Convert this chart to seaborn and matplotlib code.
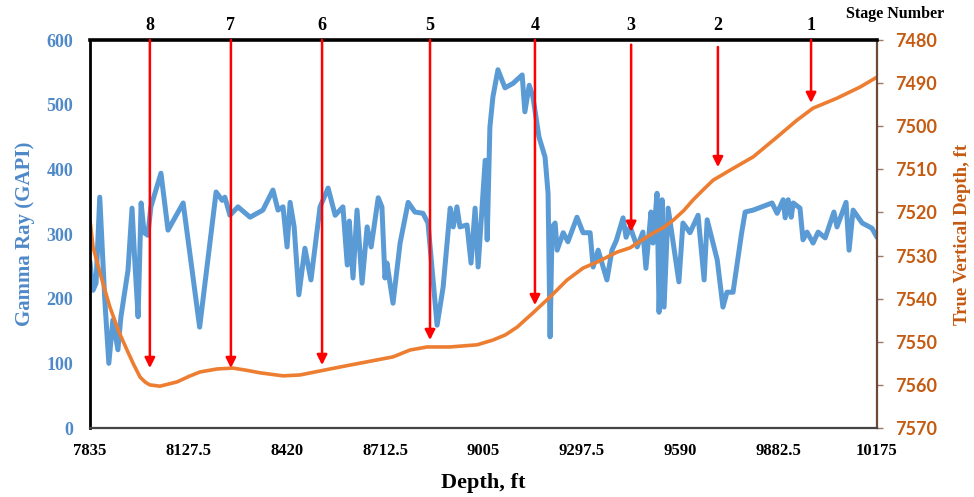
import matplotlib
matplotlib.use("Agg")
import matplotlib.pyplot as plt
import matplotlib.transforms as mtransforms
import seaborn as sns

# Gamma ray log along the lateral (measured depth, ft -> GAPI)
gr_depth = [7835, 7844, 7853, 7864, 7879, 7891, 7903, 7918, 7927, 7948, 7960, 7968,
            7978, 7987, 7996, 8007, 8016, 8046, 8067, 8112, 8161, 8210, 8228, 8236,
            8251, 8275, 8311, 8349, 8379, 8394, 8409, 8421, 8430, 8442, 8456, 8474,
            8492, 8519, 8543, 8564, 8587, 8600, 8606, 8617, 8629, 8644, 8659, 8671,
            8692, 8703, 8712, 8718, 8736, 8757, 8781, 8801, 8825, 8840, 8867, 8885,
            8906, 8915, 8926, 8935, 8956, 8968, 8980, 8989, 9003, 9010, 9016, 9024,
            9033, 9048, 9069, 9093, 9120, 9128, 9141, 9152, 9170, 9188, 9197, 9203,
            9209, 9218, 9224, 9242, 9256, 9283, 9301, 9322, 9331, 9346, 9372, 9387,
            9400, 9420, 9429, 9441, 9462, 9479, 9488, 9503, 9509, 9521, 9527, 9536,
            9542, 9554, 9569, 9586, 9598, 9619, 9643, 9661, 9670, 9685, 9700, 9717,
            9729, 9747, 9762, 9772, 9783, 9807, 9863, 9878, 9896, 9902, 9911, 9920,
            9926, 9946, 9955, 9967, 9985, 10000, 10021, 10047, 10056, 10083, 10092,
            10104, 10131, 10160, 10175]
gr_value = [257, 213, 224, 357, 198, 100, 167, 121, 172, 244, 340, 260,
            172, 348, 302, 298, 342, 394, 306, 348, 156, 365, 352, 357,
            329, 342, 326, 337, 368, 337, 342, 280, 349, 311, 206, 278,
            229, 342, 371, 329, 342, 252, 320, 232, 337, 224, 311, 280,
            356, 342, 232, 255, 193, 286, 349, 334, 332, 317, 159, 218,
            340, 311, 342, 311, 314, 255, 340, 249, 360, 414, 291, 465,
            512, 554, 526, 533, 546, 489, 530, 512, 450, 419, 363, 141,
            311, 317, 275, 302, 288, 326, 302, 302, 249, 275, 229, 275,
            290, 325, 295, 311, 280, 303, 247, 334, 286, 363, 179, 353,
            187, 340, 286, 226, 317, 302, 329, 229, 322, 291, 260, 187,
            210, 210, 264, 300, 334, 337, 348, 332, 353, 325, 353, 326,
            348, 340, 291, 303, 286, 303, 294, 334, 311, 349, 275,
            337, 317, 309, 295]

# Well trajectory (measured depth, ft -> true vertical depth, ft)
tvd_depth = [7835, 7844, 7870, 7894, 7920, 7945, 7965, 7984, 8000, 8013, 8043, 8094,
             8130, 8162, 8213, 8260, 8300, 8341, 8409, 8459, 8549, 8608, 8736, 8787,
             8837, 8905, 8986, 9033, 9070, 9105, 9152, 9203, 9253, 9301, 9343, 9402,
             9441, 9462, 9509, 9540, 9569, 9600, 9628, 9660, 9688, 9738, 9807, 9878,
             9937, 9985, 10056, 10125, 10175]
tvd_value = [7521.8, 7528.0, 7535.5, 7541.9, 7547.5, 7551.9, 7555.3, 7558.2, 7559.4,
             7560.0, 7560.3, 7559.3, 7558.0, 7557.0, 7556.3, 7556.1, 7556.6, 7557.2,
             7557.9, 7557.7, 7556.3, 7555.4, 7553.5, 7551.9, 7551.2, 7551.2, 7550.7,
             7549.6, 7548.4, 7546.6, 7543.3, 7539.6, 7535.7, 7532.9, 7531.5, 7529.2,
             7528.2, 7527.1, 7524.8, 7523.5, 7521.8, 7519.6, 7517.1, 7514.6, 7512.5,
             7510.2, 7507.1, 7502.5, 7498.6, 7495.8, 7493.5, 7490.9, 7488.6]

# Frac stages: label, measured depth of the stage, TVD the arrow points to
stage_labels = ["8", "7", "6", "5", "4", "3", "2", "1"]
stage_depth = [8013, 8254, 8525, 8846, 9158, 9444, 9702, 9979]
stage_tip_tvd = [7556.1, 7556.1, 7555.4, 7549.6, 7541.5, 7524.5, 7509.5, 7494.6]

depth_ticks = [7835, 8127.5, 8420, 8712.5, 9005, 9297.5, 9590, 9882.5, 10175]
gr_ticks = [0, 100, 200, 300, 400, 500, 600]
tvd_ticks = [7480, 7490, 7500, 7510, 7520, 7530, 7540, 7550, 7560, 7570]

BLUE = "#5B9BD5"
BLUE_TXT = "#4F89C8"
ORANGE = "#ED7D31"
BROWN = "#C55A11"
SERIF = ["Liberation Serif", "DejaVu Serif"]
SANS = ["Lato", "Liberation Sans", "DejaVu Sans"]

sns.set_theme(style="white")
plt.rcParams["font.family"] = SERIF

fig = plt.figure(figsize=(9.74, 4.97), dpi=100)
ax = fig.add_axes([0.0924, 0.1388, 0.808, 0.7807])

sns.lineplot(x=gr_depth, y=gr_value, ax=ax, sort=False, estimator=None,
             color=BLUE, linewidth=3.6, solid_joinstyle="round", solid_capstyle="round")
ax.set_xlim(7835, 10175)
ax.set_ylim(0, 600)

ax2 = ax.twinx()
sns.lineplot(x=tvd_depth, y=tvd_value, ax=ax2, sort=False, estimator=None,
             color=ORANGE, linewidth=2.6, solid_joinstyle="round")
ax2.set_ylim(7570, 7480)
ax2.set_xlim(7835, 10175)

# axes, ticks and labels
ax.set_xticks(depth_ticks)
ax.set_xticklabels([f"{t:g}" for t in depth_ticks])
ax.set_yticks(gr_ticks)
ax.set_yticklabels([str(t) for t in gr_ticks])
ax2.set_yticks(tvd_ticks)
ax2.set_yticklabels([str(t) for t in tvd_ticks])

ax.tick_params(axis="x", length=0, pad=11, labelsize=12, labelcolor="black")
ax.tick_params(axis="y", length=0, pad=12, labelsize=13, labelcolor=BLUE_TXT)
ax2.tick_params(axis="y", which="major", direction="out", length=4, width=1,
                color="#9A7A66", pad=9, labelsize=13, labelcolor=BROWN, right=True)
for lbl in ax.get_xticklabels() + ax.get_yticklabels():
    lbl.set_fontweight("bold")
    lbl.set_family(SERIF)
for lbl in ax2.get_yticklabels():
    lbl.set_fontweight("bold")
    lbl.set_family(SANS)

ax.set_xlabel("Depth, ft", fontsize=16, fontweight="bold", color="black", labelpad=10)
ax.set_ylabel("Gamma Ray (GAPI)", fontsize=15, fontweight="bold", color=BLUE_TXT, labelpad=8)
ax2.set_ylabel("True Vertical Depth, ft", fontsize=13.5, fontweight="bold", color=BROWN,
               labelpad=12)

ax.grid(False)
ax2.grid(False)
for sp in ax.spines.values():
    sp.set_visible(False)
ax2.spines["left"].set_color("black")
ax2.spines["left"].set_linewidth(2.0)
ax2.spines["top"].set_color("black")
ax2.spines["top"].set_linewidth(2.6)
ax2.spines["bottom"].set_color("#444444")
ax2.spines["bottom"].set_linewidth(1.6)
ax2.spines["right"].set_color("#6B4A36")
ax2.spines["right"].set_linewidth(1.6)

# stage arrows pointing down onto the trajectory
top = mtransforms.blended_transform_factory(ax2.transData, ax2.transAxes)
start_frac = [1.0, 1.0, 1.0, 1.0, 1.0, 0.988, 0.982, 1.0]
for lab, d, tip, s in zip(stage_labels, stage_depth, stage_tip_tvd, start_frac):
    ax2.annotate("", xy=(d, tip), xycoords="data",
                 xytext=(d, s), textcoords=top,
                 arrowprops=dict(arrowstyle="-|>", color="#FF0000", lw=1.8,
                                 mutation_scale=15, shrinkA=0, shrinkB=0),
                 zorder=6)
    ax2.text(d, 1.038, lab, transform=top, ha="center", va="center",
             fontsize=13, fontweight="bold", color="black", family=SERIF)

ax2.text(1.023, 1.066, "Stage Number", transform=ax2.transAxes, ha="center",
         va="center", fontsize=11.5, fontweight="bold", color="black", family=SERIF)

fig.savefig("out.png", dpi=100, facecolor="white")
